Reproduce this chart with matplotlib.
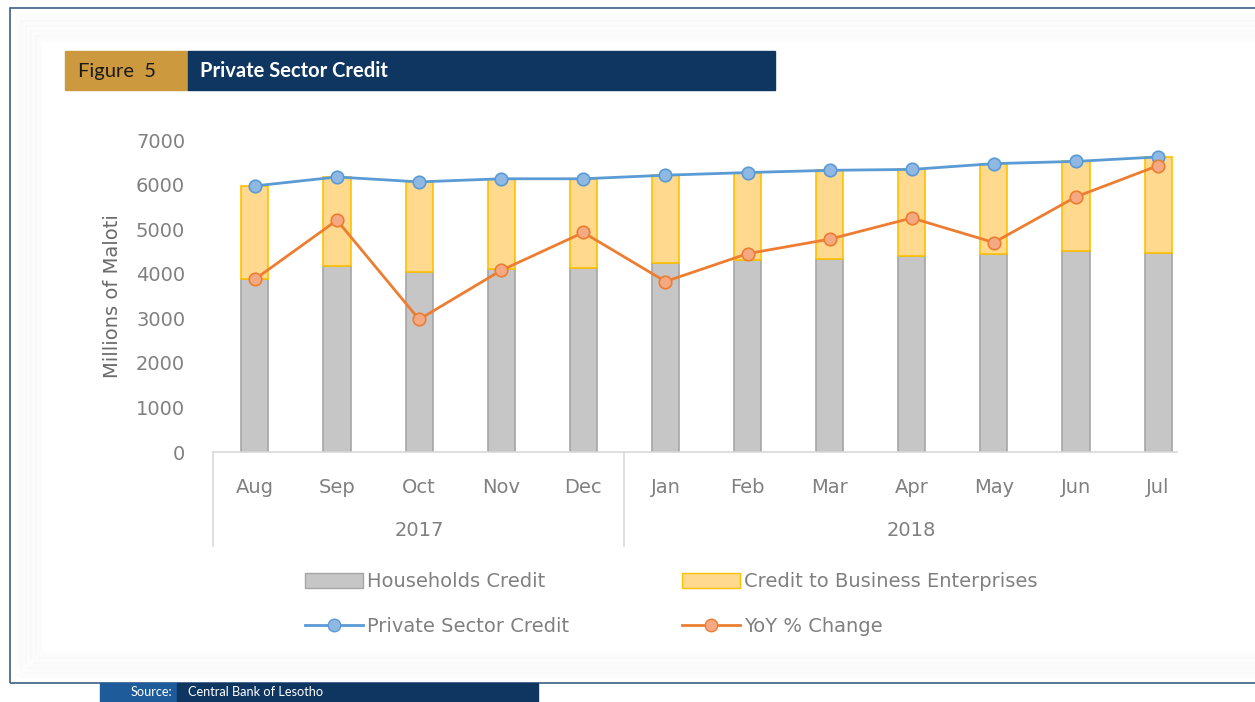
import matplotlib
matplotlib.use("Agg")
import matplotlib.pyplot as plt
from matplotlib.patches import Rectangle
from matplotlib.lines import Line2D
from matplotlib.patches import Patch

months = ['Aug', 'Sep', 'Oct', 'Nov', 'Dec', 'Jan', 'Feb', 'Mar', 'Apr', 'May', 'Jun', 'Jul']
years = ['2017', '2018']
year_spans = [(0, 4), (5, 11)]

households = [3890, 4180, 4040, 4100, 4120, 4240, 4310, 4340, 4400, 4440, 4520, 4460]
private_sector = [5970, 6170, 6060, 6130, 6130, 6210, 6270, 6320, 6340, 6470, 6520, 6620]
business = [t - h for t, h in zip(private_sector, households)]
yoy_pct = [7.75, 10.4, 5.95, 8.15, 9.85, 7.65, 8.9, 9.55, 10.5, 9.4, 11.45, 12.85]

W, H = 1255, 702
fig = plt.figure(figsize=(W / 100, H / 100), dpi=100)
plt.rcParams['font.family'] = ['DejaVu Sans']

def fx(px):
    return px / W

def fy(py):
    return 1 - py / H

# outer frame with a faint inner shadow
fig.patches.append(Rectangle((fx(10), fy(683)), fx(1260) - fx(10), fy(8) - fy(683),
                             transform=fig.transFigure, fill=False,
                             edgecolor='#3d5f86', linewidth=1.2))
for i in range(5):
    fig.patches.append(Rectangle((fx(18 + i * 5), fy(675 - i * 5)), fx(1260),
                                 fy(18 + i * 5) - fy(675 - i * 5),
                                 transform=fig.transFigure, fill=False,
                                 edgecolor='black', alpha=0.01, linewidth=5))

# header
header_font = ['Lato', 'DejaVu Sans']
fig.patches.append(Rectangle((fx(65), fy(90)), fx(123), fy(51) - fy(90),
                             transform=fig.transFigure, color='#cd993f'))
fig.patches.append(Rectangle((fx(188), fy(90)), fx(587), fy(51) - fy(90),
                             transform=fig.transFigure, color='#0e3660'))
fig.text(fx(78), fy(71), 'Figure  5', color='#1a1a1a', fontsize=14.5,
         va='center', ha='left', family=header_font)
fig.text(fx(200), fy(71), 'Private Sector Credit', color='white', fontsize=14.5,
         va='center', ha='left', family=header_font, fontweight='bold')

# source bar
fig.patches.append(Rectangle((fx(100), 0), fx(77), fy(683),
                             transform=fig.transFigure, color='#1d5b9a'))
fig.patches.append(Rectangle((fx(177), 0), fx(361), fy(683),
                             transform=fig.transFigure, color='#0e3660'))
fig.text(fx(172), fy(692), 'Source:', color='white', fontsize=9.2,
         va='center', ha='right', family=header_font)
fig.text(fx(188), fy(692), 'Central Bank of Lesotho', color='white', fontsize=9.2,
         va='center', ha='left', family=header_font)

# chart
ax = fig.add_axes([fx(213), fy(452), fx(1177) - fx(213), fy(140) - fy(452)])
x = list(range(len(months)))
bw = 0.33
ax.bar(x, households, width=bw, color='#c6c6c6', edgecolor='#a5a5a5', linewidth=1.2, zorder=2)
ax.bar(x, business, width=bw, bottom=households, color='#ffd98e', edgecolor='#ffc000',
       linewidth=1.2, zorder=2)
ax.plot(x, private_sector, color='#5b9bd5', linewidth=2, marker='o', markersize=9,
        markerfacecolor='#8fb8e3', markeredgecolor='#5b9bd5', markeredgewidth=1.2, zorder=5)

ax.set_ylim(0, 7000)
ax.set_xlim(-0.51, 11.23)
ax.set_yticks(range(0, 7001, 1000))
ax.tick_params(axis='y', length=0, labelsize=14, labelcolor='#808080', pad=20)
ax.set_xticks(x)
ax.set_xticklabels(months)
ax.tick_params(axis='x', length=0, labelsize=14, labelcolor='#808080', pad=19)
for s in ['top', 'right', 'left']:
    ax.spines[s].set_visible(False)
ax.spines['bottom'].set_color('#d9d9d9')
ax.spines['bottom'].set_linewidth(1.2)
ax.set_ylabel('Millions of Maloti', fontsize=14, color='#6a6a6a', labelpad=10)

tr = ax.get_xaxis_transform()
for xs in [-0.51, 4.5]:
    ax.plot([xs, xs], [0, -0.3], transform=tr, color='#d9d9d9', linewidth=1.2, clip_on=False)
for yr, (a, b) in zip(years, year_spans):
    ax.text((a + b) / 2, -0.25, yr, transform=tr, ha='center', va='center',
            fontsize=14, color='#808080')

ax2 = ax.twinx()
ax2.plot(x, yoy_pct, color='#ed7d31', linewidth=2, marker='o', markersize=9,
         markerfacecolor='#f4a983', markeredgecolor='#ed7d31', markeredgewidth=1.2, zorder=4)
ax2.set_ylim(0, 14)
ax2.axis('off')
ax.set_zorder(1)
ax2.set_zorder(2)
ax.patch.set_visible(False)

handles = [
    Patch(facecolor='#c6c6c6', edgecolor='#a5a5a5', label='Households Credit'),
    Line2D([], [], color='#5b9bd5', linewidth=2, marker='o', markersize=9,
           markerfacecolor='#8fb8e3', markeredgecolor='#5b9bd5', label='Private Sector Credit'),
    Patch(facecolor='#ffd98e', edgecolor='#ffc000', label='Credit to Business Enterprises'),
    Line2D([], [], color='#ed7d31', linewidth=2, marker='o', markersize=9,
           markerfacecolor='#f4a983', markeredgecolor='#ed7d31', label='YoY % Change'),
]
leg = fig.legend(handles=handles, ncol=2,
                 loc='center left', bbox_to_anchor=(fx(287), fy(604)), frameon=False,
                 fontsize=14, handlelength=3.0, handleheight=0.8, handletextpad=0.2,
                 columnspacing=5.8, labelspacing=1.3)
for t in leg.get_texts():
    t.set_color('#808080')

fig.savefig('out.png', dpi=100)
